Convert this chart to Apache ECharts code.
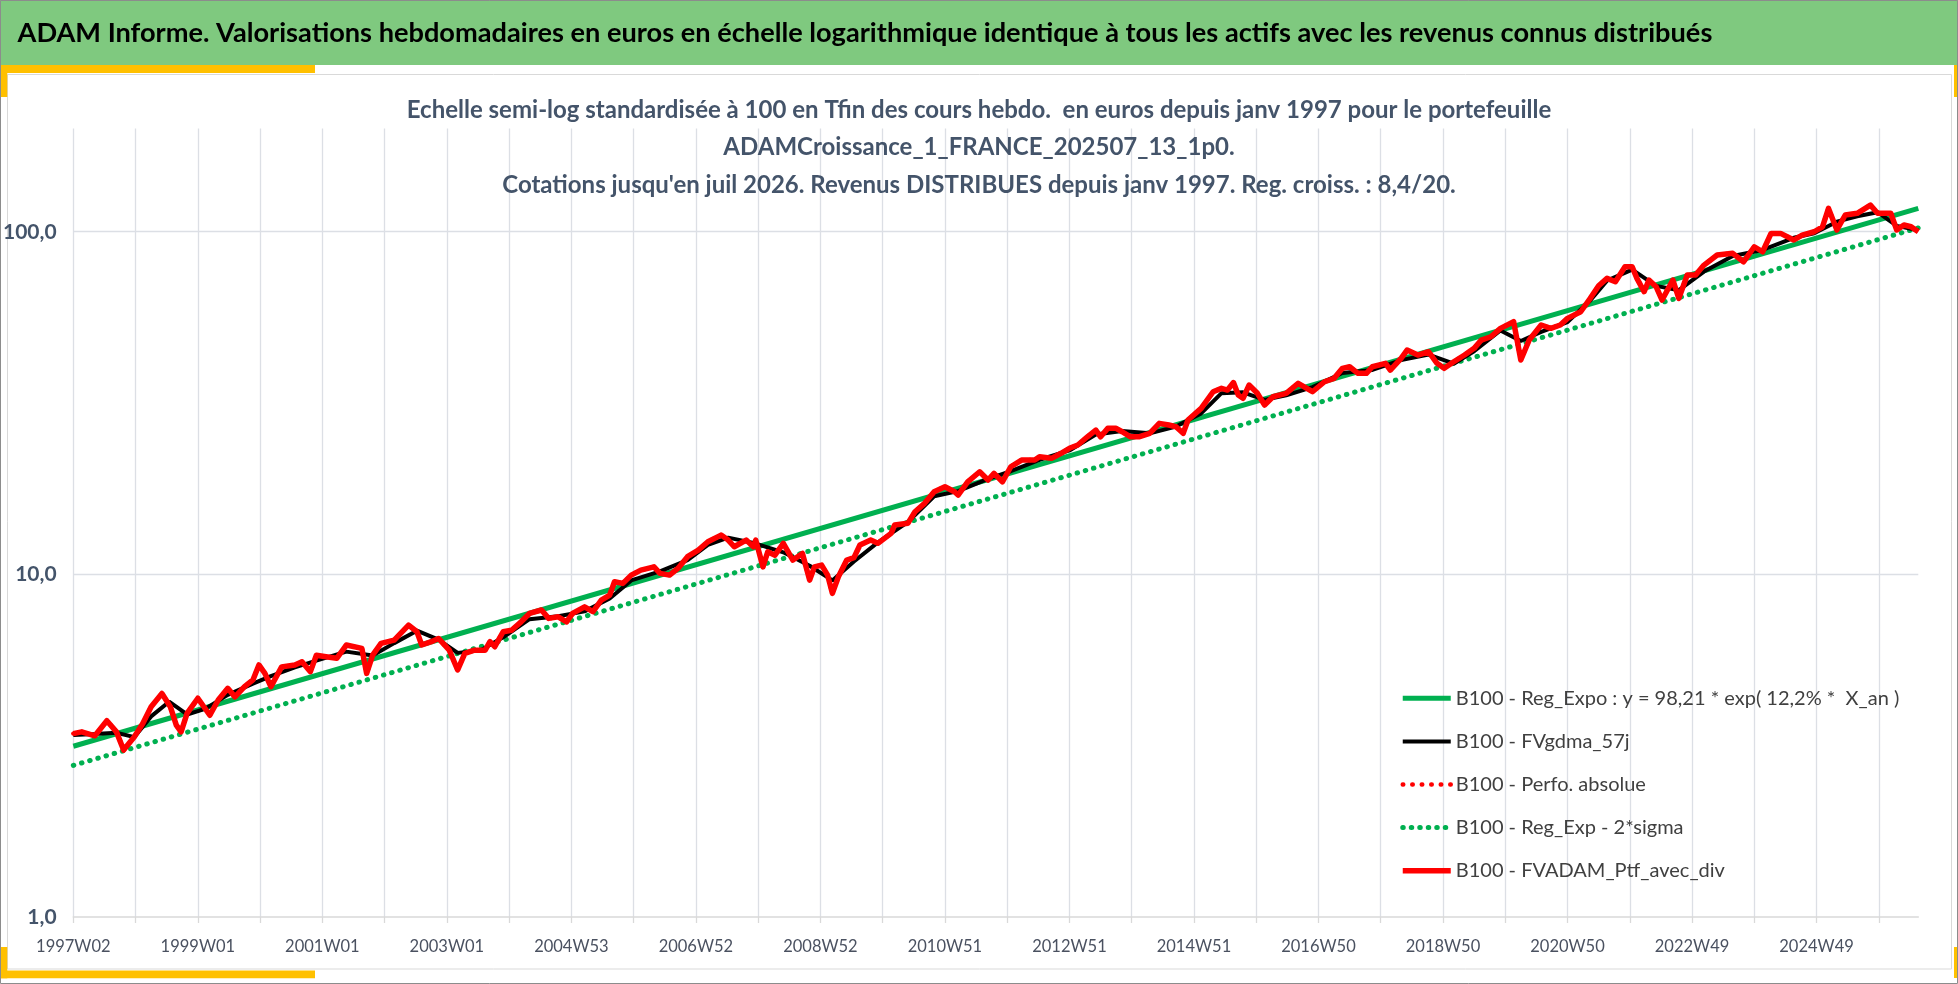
<!DOCTYPE html>
<html>
<head>
<meta charset="utf-8">
<script src="https://cdn.jsdelivr.net/npm/echarts@6/dist/echarts.min.js"></script>
<style>
html,body{margin:0;padding:0;background:#fff;}
#c{width:1958px;height:984px;}
</style>
</head>
<body>
<div id="c"></div>
<script>
// ---------- texts ----------
const titleText = "ADAM Informe. Valorisations hebdomadaires en euros en échelle logarithmique identique à tous les actifs avec les revenus connus distribués";
const subtitleLines = [
  "Echelle semi-log standardisée à 100 en Tfin des cours hebdo.  en euros depuis janv 1997 pour le portefeuille",
  "ADAMCroissance_1_FRANCE_202507_13_1p0.",
  "Cotations jusqu'en juil 2026. Revenus DISTRIBUES depuis janv 1997. Reg. croiss. : 8,4/20."
];
const legendNames = [
  "B100 - Reg_Expo : y = 98,21 * exp( 12,2% *  X_an )",
  "B100 - FVgdma_57j",
  "B100 - Perfo. absolue",
  "B100 - Reg_Exp - 2*sigma",
  "B100 - FVADAM_Ptf_avec_div"
];

// ---------- categories (ISO weeks) ----------
const firstYear = 1997, firstWeek = 2, weekCount = 1542;
const isoYearsWith53Weeks = [1998, 2004, 2009, 2015, 2020, 2026];
const yTickValues = [1, 10, 100];
const yMin = 1, yMax = 200;

// ---------- series values: [week index, value] ----------
const ptfWithDiv = [
 [0,3.43],[7,3.47],[18,3.38],[28,3.74],[36,3.47],[42,3.07],[51,3.36],[58,3.67],[65,4.11],[74,4.49],
 [81,4.11],[86,3.63],[90,3.47],[95,3.93],[104,4.35],[114,3.88],[121,4.30],[129,4.65],[135,4.39],[143,4.70],
 [150,4.92],[155,5.44],[160,5.14],[165,4.70],[174,5.37],[185,5.44],[191,5.56],[198,5.20],[203,5.81],[211,5.75],
 [220,5.69],[228,6.22],[241,6.08],[245,5.14],[250,5.81],[257,6.29],[268,6.43],[280,7.11],[287,6.80],[291,6.22],
 [299,6.36],[305,6.50],[314,6.01],[321,5.26],[327,5.88],[335,6.01],[344,6.01],[348,6.36],[352,6.15],[359,6.80],
 [366,6.87],[374,7.27],[381,7.69],[391,7.87],[397,7.44],[405,7.52],[412,7.27],[417,7.69],[427,8.04],[434,7.78],
 [441,8.41],[448,8.70],[452,9.52],[459,9.41],[466,9.95],[474,10.29],[485,10.52],[490,10.07],[498,9.95],[505,10.41],
 [513,11.26],[522,11.77],[530,12.45],[541,13.02],[547,12.59],[552,12.04],[562,12.59],[568,12.04],[570,12.59],[576,10.52],
 [580,11.64],[586,11.38],[593,12.32],[601,11.01],[609,11.51],[615,9.62],[619,10.52],[625,10.64],[630,9.95],[634,8.80],
 [639,9.84],[646,11.01],[652,11.19],[657,12.18],[666,12.59],[672,12.32],[683,13.17],[686,13.93],[697,14.09],[703,15.23],
 [711,16.12],[719,17.42],[728,18.02],[736,17.42],[739,17.04],[747,18.63],[757,19.93],[764,18.85],[769,19.72],[776,18.63],
 [783,20.61],[792,21.56],[803,21.56],[807,22.04],[817,21.81],[825,22.56],[832,23.33],[839,23.85],[847,25.21],[854,26.37],
 [858,25.21],[864,26.68],[871,26.68],[876,26.08],[883,25.21],[890,25.21],[899,25.80],[907,27.59],[915,27.28],[921,26.97],
 [927,25.80],[931,28.21],[942,30.5],[952,34.12],[959,34.91],[964,34.51],[969,36.29],[973,33.38],[977,32.65],[982,35.69],
 [989,33.76],[995,31.21],[1002,32.99],[1013,33.76],[1023,36.10],[1035,34.12],[1045,36.49],[1053,37.33],[1060,39.93],[1066,40.36],
 [1073,38.61],[1080,38.61],[1085,40.36],[1096,41.29],[1100,39.47],[1109,42.71],[1114,45.16],[1123,43.67],[1132,44.64],[1139,41.29],
 [1145,39.93],[1153,41.73],[1162,43.67],[1170,45.67],[1176,48.30],[1184,49.38],[1192,52.24],[1203,54.62],[1209,42.22],[1216,48.30],
 [1226,53.43],[1234,52.24],[1242,53.43],[1248,55.87],[1259,58.41],[1267,63.92],[1274,69.53],[1281,73.11],[1288,71.46],[1296,79.02],
 [1302,79.02],[1306,73.11],[1312,66.84],[1316,72.28],[1322,69.10],[1327,63.18],[1336,72.28],[1341,63.92],[1348,74.75],[1355,74.75],
 [1362,79.93],[1373,85.51],[1386,86.50],[1395,81.72],[1404,90.41],[1411,87.41],[1418,98.9],[1426,98.9],[1437,94.6],[1444,97.8],
 [1454,100.0],[1461,103.4],[1466,117.0],[1473,101.2],[1480,111.9],[1490,113.2],[1501,119.6],[1507,113.2],[1518,113.2],[1523,101.2],
 [1529,104.6],[1535,103.4],[1541,100.0]
];
const perfAbsolue = ptfWithDiv;
const gdma57 = [
 [0,3.40],[18,3.42],[36,3.45],[51,3.35],[65,3.85],[80,4.25],[95,3.90],[110,4.05],[129,4.45],[150,4.80],
 [165,5.05],[185,5.35],[203,5.60],[228,5.95],[250,5.80],[268,6.30],[287,6.85],[305,6.45],[321,5.90],[340,6.00],
 [359,6.55],[381,7.40],[405,7.55],[427,7.80],[448,8.50],[466,9.60],[490,10.2],[513,11.0],[530,12.2],[547,12.8],
 [570,12.3],[593,11.6],[615,10.6],[634,9.6],[652,10.9],[672,12.4],[697,14.2],[719,16.9],[739,17.5],[764,19.0],
 [783,20.0],[807,21.6],[832,23.0],[854,25.6],[876,26.2],[899,25.8],[921,27.0],[942,29.5],[959,33.8],[977,34.0],
 [995,32.3],[1013,33.3],[1035,35.2],[1060,38.7],[1085,39.5],[1109,42.2],[1132,43.8],[1153,41.2],[1170,44.8],[1192,51.5],
 [1209,48.0],[1226,51.0],[1248,54.5],[1267,63.0],[1281,72.0],[1302,77.5],[1322,69.5],[1341,67.5],[1362,76.5],[1386,85.0],
 [1411,88.5],[1437,96.0],[1454,99.0],[1473,107],[1490,111],[1507,114],[1523,104],[1541,101]
];
const regExpo = [[0,3.15],[1541,117.0]];
const regExpMinus2Sigma = [[0,2.77],[1541,102.6]];

// ---------- build categories ----------
const categories = [];
(function(){
  let y = firstYear, w = firstWeek;
  for (let i = 0; i < weekCount; i++) {
    categories.push(y + 'W' + String(w).padStart(2, '0'));
    w++;
    const n = isoYearsWith53Weeks.includes(y) ? 53 : 52;
    if (w > n) { y++; w = 1; }
  }
})();

const FONT = 'Lato';
const GRID_COLOR = '#DCDFE5';
const chart = echarts.init(document.getElementById('c'), null, {renderer:'canvas'});

function isTick(v){
  return yTickValues.some(t => Math.abs(Math.log10(v) - Math.log10(t)) < 1e-6);
}

const option = {
  animation: false,
  backgroundColor: '#ffffff',
  textStyle: {fontFamily: FONT},
  grid: {left: 71.7, right: 39.7, top: 128.6, bottom: 67, containLabel: false},
  xAxis: {
    type: 'category',
    data: categories,
    boundaryGap: false,
    axisLine: {show: true, lineStyle: {color: '#D9D9D9', width: 1.5}},
    axisTick: {show: true, interval: 51, length: 6, lineStyle: {color: '#D9D9D9', width: 1.3}},
    axisLabel: {interval: 103, color: '#4A5160', fontSize: 16.5, margin: 21, fontFamily: FONT},
    splitLine: {show: true, interval: 51, lineStyle: {color: GRID_COLOR, width: 1.3}}
  },
  yAxis: {
    type: 'log',
    logBase: 10,
    min: yMin,
    max: yMax,
    axisLine: {show: false},
    axisTick: {show: false},
    splitLine: {show: false},
    axisLabel: {
      margin: 16.7,
      color: '#44546A',
      fontWeight: 'bold',
      fontSize: 21,
      fontFamily: FONT,
      formatter: v => isTick(v) ? Number(v).toFixed(1).replace('.', ',') : ''
    }
  },
  legend: {
    orient: 'vertical',
    left: 1400,
    top: 688.3,
    padding: 0,
    itemWidth: 48,
    itemHeight: 20,
    itemGap: 23.1,
    textStyle: {fontSize: 20, lineHeight: 20, color: '#404040', fontFamily: FONT},
    itemStyle: {opacity: 0},
    lineStyle: {width: 'inherit'},
    data: legendNames
  },
  series: [
    {
      name: legendNames[3], type: 'line', data: regExpMinus2Sigma, symbol: 'none', z: 2,
      color: '#00B050',
      lineStyle: {color: '#00B050', width: 5, type: [0.5, 8], cap: 'round'},
      markLine: {
        silent: true, symbol: 'none', label: {show: false},
        lineStyle: {color: GRID_COLOR, width: 1.3, type: 'solid'},
        data: [{yAxis: 10}, {yAxis: 100}],
        z: 1
      }
    },
    {
      name: legendNames[0], type: 'line', data: regExpo, symbol: 'none', z: 3,
      color: '#00B050',
      lineStyle: {color: '#00B050', width: 5}
    },
    {
      name: legendNames[1], type: 'line', data: gdma57, symbol: 'none', z: 4,
      color: '#000000',
      lineStyle: {color: '#000000', width: 4}
    },
    {
      name: legendNames[2], type: 'line', data: perfAbsolue, symbol: 'none', z: 5,
      color: '#FF0000',
      lineStyle: {color: '#FF0000', width: 4.5, type: [0.5, 9], cap: 'round'}
    },
    {
      name: legendNames[4], type: 'line', data: ptfWithDiv, symbol: 'none', z: 6,
      color: '#FF0000',
      lineStyle: {color: '#FF0000', width: 5.5, join: 'round'}
    }
  ],
  graphic: [
    {type: 'rect', z: -10, shape: {x: 0, y: 0, width: 1958, height: 65}, style: {fill: '#7FC97F'}},
    {type: 'rect', z: -9, shape: {x: 7.5, y: 74.5, width: 1944, height: 894.5}, style: {fill: 'none', stroke: '#D9D9D9', lineWidth: 1}},
    {type: 'rect', z: -8, shape: {x: 0, y: 65, width: 315, height: 8}, style: {fill: '#FFC000'}},
    {type: 'rect', z: -8, shape: {x: 0, y: 65, width: 7.3, height: 32}, style: {fill: '#FFC000'}},
    {type: 'rect', z: -8, shape: {x: 0, y: 947, width: 7.3, height: 31.3}, style: {fill: '#FFC000'}},
    {type: 'rect', z: -8, shape: {x: 0, y: 970.5, width: 315, height: 7.8}, style: {fill: '#FFC000'}},
    {type: 'rect', z: -8, shape: {x: 1954, y: 65, width: 4, height: 32}, style: {fill: '#FFC000'}},
    {type: 'rect', z: -8, shape: {x: 1954, y: 947, width: 4, height: 31}, style: {fill: '#FFC000'}},
    {type: 'rect', z: 50, shape: {x: 0.5, y: 0.5, width: 1957, height: 983}, style: {fill: 'none', stroke: '#8C8C8C', lineWidth: 1}},
    {type: 'text', z: 20, x: 17.5, y: 33, style: {text: titleText, fill: '#000000', font: 'bold 27.2px Lato', textVerticalAlign: 'middle', textAlign: 'left'}},
    {type: 'text', z: 20, x: 979, y: 110, style: {text: subtitleLines[0], fill: '#44546A', font: 'bold 24px Lato', textVerticalAlign: 'middle', textAlign: 'center'}},
    {type: 'text', z: 20, x: 979, y: 147.5, style: {text: subtitleLines[1], fill: '#44546A', font: 'bold 24px Lato', textVerticalAlign: 'middle', textAlign: 'center'}},
    {type: 'text', z: 20, x: 979, y: 185, style: {text: subtitleLines[2], fill: '#44546A', font: 'bold 24px Lato', textVerticalAlign: 'middle', textAlign: 'center'}}
  ]
};
chart.setOption(option);
</script>
</body>
</html>
